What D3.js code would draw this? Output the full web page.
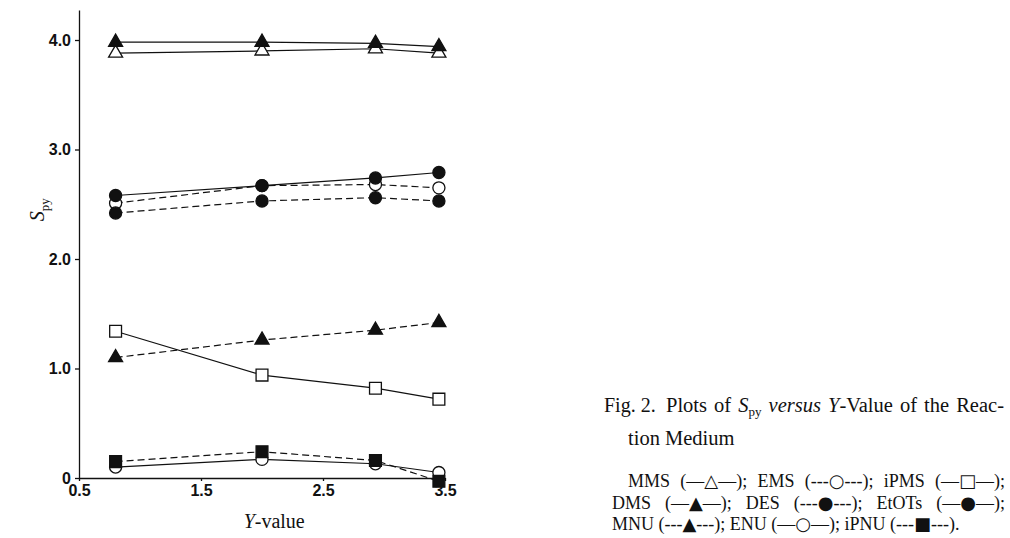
<!DOCTYPE html>
<html>
<head>
<meta charset="utf-8">
<script src="https://cdn.jsdelivr.net/npm/d3@7"></script>
<style>
  html, body { margin: 0; padding: 0; background: #fff; }
</style>
</head>
<body>
<div id="chart"></div>
<script>
// Y-value positions shared by all series
const yValues = [0.8, 2.0, 2.93, 3.45];

// S_py per compound
const mmsValues   = [3.88, 3.90, 3.92, 3.88];
const dmsValues   = [3.98, 3.98, 3.97, 3.94];
const etotsValues = [2.58, 2.67, 2.74, 2.79];
const emsValues   = [2.51, 2.67, 2.68, 2.65];
const desValues   = [2.42, 2.53, 2.56, 2.53];
const ipmsValues  = [1.34, 0.94, 0.82, 0.72];
const mnuValues   = [1.10, 1.26, 1.35, 1.42];
const enuValues   = [0.10, 0.17, 0.13, 0.05];
const ipnuValues  = [0.15, 0.24, 0.16, -0.03];

const xTicks = [0.5, 1.5, 2.5, 3.5];
const yTicks = [0, 1, 2, 3, 4];

const series = [
  { name: "MMS",   values: mmsValues,   dashed: false, shape: "triangle", filled: false },
  { name: "DMS",   values: dmsValues,   dashed: false, shape: "triangle", filled: true },
  { name: "EMS",   values: emsValues,   dashed: true,  shape: "circle",   filled: false },
  { name: "EtOTs", values: etotsValues, dashed: false, shape: "circle",   filled: true },
  { name: "DES",   values: desValues,   dashed: true,  shape: "circle",   filled: true },
  { name: "iPMS",  values: ipmsValues,  dashed: false, shape: "square",   filled: false },
  { name: "MNU",   values: mnuValues,   dashed: true,  shape: "triangle", filled: true },
  { name: "ENU",   values: enuValues,   dashed: false, shape: "circle",   filled: false },
  { name: "iPNU",  values: ipnuValues,  dashed: true,  shape: "square",   filled: true }
];

const width = 1010;
const height = 538;

const svg = d3.select("#chart").append("svg")
  .attr("width", width)
  .attr("height", height)
  .style("display", "block")
  .style("background", "#fff");

const x = d3.scaleLinear().domain([0.5, 3.5]).range([79, 445]);
const y = d3.scaleLinear().domain([0, 4.274]).range([478, 10]);

const tickFont = "bold 16px 'Liberation Sans', Arial, sans-serif";
const serif = "'Liberation Serif', 'Times New Roman', serif";

// y axis
const yAxis = svg.append("g")
  .attr("transform", `translate(${x(0.5)},0)`)
  .call(d3.axisLeft(y)
    .tickValues(yTicks)
    .tickFormat(d => d === 0 ? "0" : d.toFixed(1))
    .tickSize(4)
    .tickSizeOuter(0)
    .tickPadding(4));
yAxis.selectAll("text").style("font", tickFont).attr("fill", "#111");
yAxis.selectAll("line, path").attr("stroke", "#111").attr("stroke-width", 1.3);

// x axis
const xAxis = svg.append("g")
  .attr("transform", `translate(0,${y(0)})`)
  .call(d3.axisBottom(x)
    .tickValues(xTicks)
    .tickFormat(d3.format(".1f"))
    .tickSize(3)
    .tickSizeOuter(0)
    .tickPadding(4));
xAxis.selectAll("text").style("font", tickFont).attr("fill", "#111");
xAxis.selectAll("line, path").attr("stroke", "#111").attr("stroke-width", 1.3);

// axis titles
const yTitle = svg.append("text")
  .attr("transform", `translate(44,${y(2.45)}) rotate(-90)`)
  .attr("text-anchor", "middle")
  .style("font", `20px ${serif}`)
  .attr("fill", "#111");
yTitle.append("tspan").style("font-style", "italic").text("S");
yTitle.append("tspan").attr("dy", 5).style("font-size", "13px").text("py");

const xTitle = svg.append("text")
  .attr("x", x(2.1))
  .attr("y", 528)
  .attr("text-anchor", "middle")
  .style("font", `20px ${serif}`)
  .attr("fill", "#111");
xTitle.append("tspan").style("font-style", "italic").text("Y");
xTitle.append("tspan").text("-value");

// lines
const line = d3.line()
  .x((d, i) => x(yValues[i]))
  .y(d => y(d));

svg.append("g")
  .selectAll("path")
  .data(series)
  .join("path")
  .attr("d", d => line(d.values))
  .attr("fill", "none")
  .attr("stroke", "#111")
  .attr("stroke-width", 1.2)
  .attr("stroke-dasharray", d => d.dashed ? "7,4" : null);

// markers
const symbolType = {
  triangle: d3.symbolTriangle,
  circle: d3.symbolCircle,
  square: d3.symbolSquare
};
const symbolSize = { triangle: 85, circle: 115, square: 140 };

const points = series.flatMap(s =>
  s.values.map((v, i) => ({ s, xv: yValues[i], yv: v }))
);

svg.append("g")
  .selectAll("path")
  .data(points)
  .join("path")
  .attr("transform", d => `translate(${x(d.xv)},${y(d.yv)})`)
  .attr("d", d => d3.symbol(symbolType[d.s.shape], symbolSize[d.s.shape])())
  .attr("fill", d => d.s.filled ? "#111" : "#fff")
  .attr("stroke", "#111")
  .attr("stroke-width", 1.3);

// stretch word gaps so a line ends at a given x
function justify(sel, endX) {
  const node = sel.node();
  const natural = node.getComputedTextLength();
  const startX = +sel.attr("x");
  const spaces = (node.textContent.match(/ /g) || []).length;
  if (spaces > 0 && endX) {
    sel.style("word-spacing", `${Math.max(0, (endX - startX - natural) / spaces)}px`);
  }
}

// caption
svg.append("text")
  .attr("x", 604)
  .attr("y", 412)
  .style("font", `20px ${serif}`)
  .attr("fill", "#111")
  .text("Fig. 2.");

const cap1 = svg.append("text")
  .attr("x", 666)
  .attr("y", 412)
  .style("font", `20.5px ${serif}`)
  .attr("fill", "#111");
cap1.append("tspan").text("Plots of ");
cap1.append("tspan").style("font-style", "italic").text("S");
cap1.append("tspan").attr("dy", 4).style("font-size", "13px").text("py");
cap1.append("tspan").attr("dy", -4).text(" ");
cap1.append("tspan").style("font-style", "italic").text("versus Y");
cap1.append("tspan").text("-Value of the Reac-");
justify(cap1, 1004);

svg.append("text")
  .attr("x", 628)
  .attr("y", 445)
  .style("font", `20.5px ${serif}`)
  .attr("fill", "#111")
  .text("tion Medium");

// legend lines: [text, symbol, text] pieces
const legendLines = [
  [["MMS (\u2014", "\u25b3", "\u2014); "], ["EMS (---", "\u25cb", "---); "], ["iPMS (\u2014", "\u25a1", "\u2014);"]],
  [["DMS (\u2014", "\u25b2", "\u2014); "], ["DES (---", "\u25cf", "---); "], ["EtOTs (\u2014", "\u25cf", "\u2014);"]],
  [["MNU (---", "\u25b2", "---); "], ["ENU (\u2014", "\u25cb", "\u2014); "], ["iPNU (---", "\u25a0", "---)."]]
];
const legendX = [628, 612, 612];
const legendEnd = [1005, 1005, null];

legendLines.forEach((parts, i) => {
  const t = svg.append("text")
    .attr("x", legendX[i])
    .attr("y", 487 + i * 21.5)
    .style("font", `18px ${serif}`)
    .attr("fill", "#111");
  parts.forEach(([a, sym, b]) => {
    t.append("tspan").text(a);
    t.append("tspan")
      .style("font-family", "'DejaVu Sans', sans-serif")
      .style("font-size", "18px")
      .text(sym);
    t.append("tspan").text(b);
  });
  justify(t, legendEnd[i]);
});
</script>
</body>
</html>
